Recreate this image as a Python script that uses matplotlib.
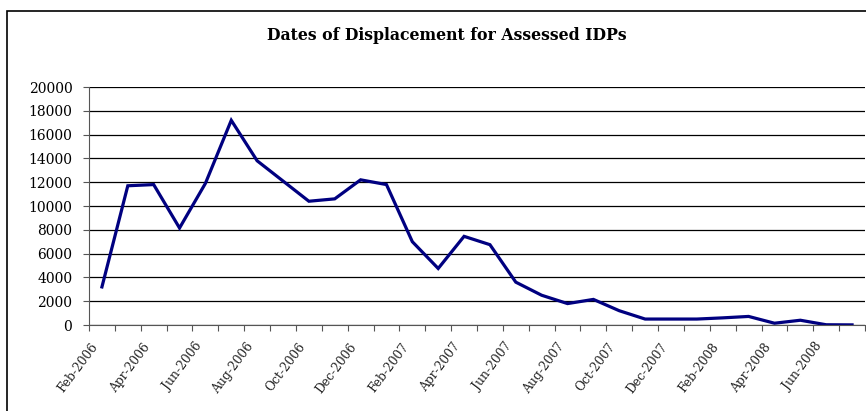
import matplotlib
matplotlib.use("Agg")
import matplotlib.pyplot as plt
import matplotlib.transforms as mtransforms
from matplotlib.patches import Rectangle

months = ["Feb-2006", "Mar-2006", "Apr-2006", "May-2006", "Jun-2006", "Jul-2006",
          "Aug-2006", "Sep-2006", "Oct-2006", "Nov-2006", "Dec-2006", "Jan-2007",
          "Feb-2007", "Mar-2007", "Apr-2007", "May-2007", "Jun-2007", "Jul-2007",
          "Aug-2007", "Sep-2007", "Oct-2007", "Nov-2007", "Dec-2007", "Jan-2008",
          "Feb-2008", "Mar-2008", "Apr-2008", "May-2008", "Jun-2008", "Jul-2008"]
idps = [3200, 11700, 11800, 8150, 11900, 17200,
        13800, 12100, 10400, 10600, 12200, 11800,
        7000, 4750, 7450, 6750, 3600, 2500,
        1800, 2150, 1200, 500, 500, 500,
        600, 720, 150, 400, 20, 10]
y_ticks = list(range(0, 20001, 2000))

plt.rcParams['font.family'] = ['DejaVu Serif']

fig = plt.figure(figsize=(8.66, 4.11), dpi=100)
ax = fig.add_axes([89 / 866, 1 - 325 / 411, 776 / 866, 238 / 411])

x = list(range(len(months)))
ax.plot(x, idps, color='#000080', lw=2.3, solid_joinstyle='miter')

ax.set_xlim(-0.5, len(months) - 0.5)
ax.set_ylim(0, 20000)
ax.set_yticks(y_ticks)
ax.set_yticklabels([str(v) for v in y_ticks], fontsize=10)
ax.yaxis.grid(True, color='black', lw=0.9)
ax.set_axisbelow(True)

# tick marks between categories, labels every second month
ax.set_xticks([i - 0.5 for i in range(len(months) + 1)])
ax.set_xticklabels([])
ax.set_xticks(x[::2], minor=True)
ax.set_xticklabels(months[::2], minor=True, rotation=53, ha='right', va='center',
                   rotation_mode='anchor', fontsize=8.8, color='#222222')
ax.tick_params(axis='x', which='minor', length=0, pad=14)
ax.tick_params(axis='x', which='major', length=4, direction='out', color='#555555')
ax.tick_params(axis='y', length=4, direction='out', color='#555555', pad=8)

# nudge rotated labels a little left, like the original
shift = mtransforms.ScaledTranslation(-6 / 100, 0, fig.dpi_scale_trans)
for lbl in ax.get_xticklabels(minor=True):
    lbl.set_transform(lbl.get_transform() + shift)

for s in ['top', 'right']:
    ax.spines[s].set_visible(False)
ax.spines['left'].set_color('#555555')
ax.spines['bottom'].set_color('#555555')

fig.text(447 / 866, 1 - 35 / 411, "Dates of Displacement for Assessed IDPs",
         ha='center', va='center', fontsize=11.3, fontweight='bold')

fig.patches.append(Rectangle((7 / 866, -0.1), 1.2, 1.1 - 11 / 411, fill=False,
                             ec='black', lw=1.2, transform=fig.transFigure,
                             clip_on=False))

fig.savefig("out.png", dpi=100)
